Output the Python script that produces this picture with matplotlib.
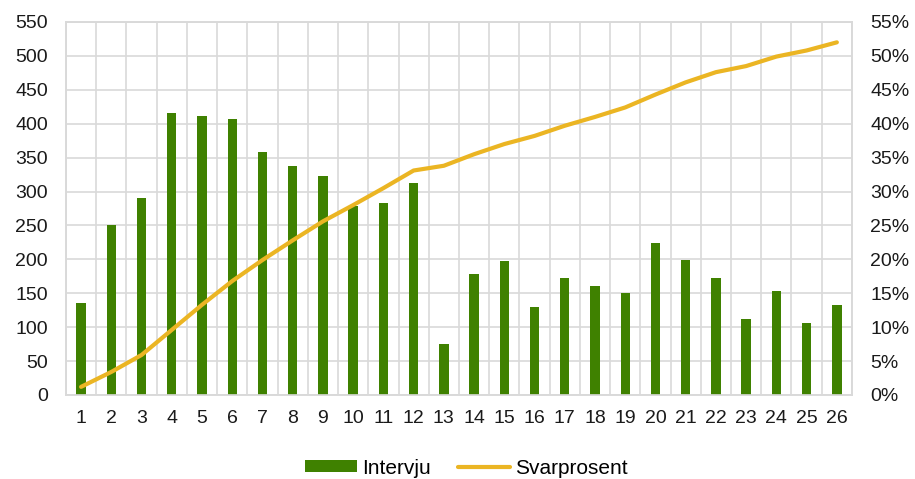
import matplotlib.pyplot as plt
import numpy as np
from matplotlib.lines import Line2D
from matplotlib.patches import Patch
from matplotlib.ticker import FixedLocator, PercentFormatter

plt.rcParams['font.family'] = ['Liberation Sans', 'DejaVu Sans']

days = list(range(1, 27))
intervju = [135, 251, 290, 416, 412, 407, 359, 338, 323, 278, 283, 312, 75,
            178, 197, 129, 173, 161, 151, 224, 199, 173, 112, 154, 106, 132]
svarprosent = [1.2, 3.4, 5.9, 9.6, 13.3, 16.8, 19.9, 22.8, 25.6, 28.0, 30.5, 33.1, 33.8,
               35.5, 37.0, 38.2, 39.7, 41.0, 42.4, 44.3, 46.1, 47.6, 48.5, 49.9, 50.8, 52.0]

bar_color = '#3f8100'
line_color = '#ebb523'
grid_color = '#d9d9d9'
fs = 14

fig = plt.figure(figsize=(9.15, 4.79), dpi=100)
ax = fig.add_axes([0.0721, 0.1754, 0.8590, 0.7787])
ax2 = ax.twinx()

x = np.arange(len(days))
ax.bar(x, intervju, width=0.31, color=bar_color, zorder=3)
ax2.plot(x, svarprosent, color=line_color, lw=3.0, solid_capstyle='round',
         solid_joinstyle='round', zorder=4)

ax.set_xlim(-0.5, len(days) - 0.5)
ax.set_ylim(0, 550)
ax.set_yticks(np.arange(0, 551, 50))
ax2.set_ylim(0, 55)
ax2.set_yticks(np.arange(0, 56, 5))
ax2.yaxis.set_major_formatter(PercentFormatter(decimals=0))

ax.set_xticks(x)
ax.set_xticklabels([str(d) for d in days])
ax.xaxis.set_minor_locator(FixedLocator(np.arange(-0.5, len(days), 1)))

ax.grid(axis='y', which='major', color=grid_color, lw=1.2, zorder=0)
ax.grid(axis='x', which='minor', color=grid_color, lw=1.2, zorder=0)
ax.set_axisbelow(True)

for a in (ax, ax2):
    for s in a.spines.values():
        s.set_color(grid_color)
        s.set_linewidth(1.2)
    a.tick_params(length=0, labelsize=fs, colors='#1a1a1a', which='both')
ax.tick_params(axis='y', pad=13)
ax2.tick_params(axis='y', pad=13)
ax.tick_params(axis='x', pad=11)

handles = [Patch(facecolor=bar_color, edgecolor='none'),
           Line2D([0], [0], color=line_color, lw=3.0, solid_capstyle='round')]
fig.legend(handles, ['Intervju', 'Svarprosent'], loc='center',
           bbox_to_anchor=(0.51, 1 - 468 / 479), ncol=2, frameon=False, fontsize=15,
           handlelength=2.5, handleheight=0.45, handletextpad=0.25, columnspacing=1.3)

fig.savefig('out.png', dpi=100)
